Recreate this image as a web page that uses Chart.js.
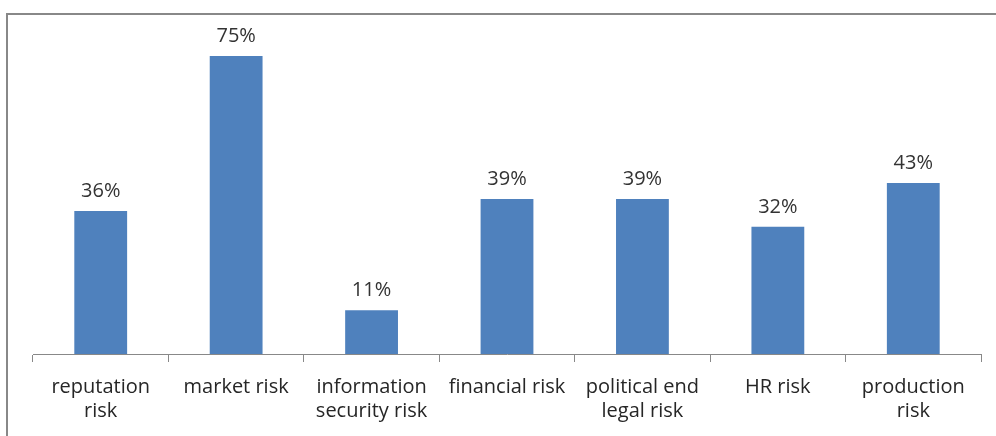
<!DOCTYPE html>
<html>
<head>
<meta charset="utf-8">
<script src="https://cdn.jsdelivr.net/npm/chart.js@4.4.0/dist/chart.umd.min.js"></script>
<style>
  body { margin: 0; background: #fff; }
  #frame { position: absolute; left: 6px; top: 13px; width: 990px; height: 423px;
           border-left: 2px solid #888; border-top: 2px solid #888; box-sizing: border-box; }
  #wrap { position: absolute; left: 0; top: 0; width: 996px; height: 436px; }
</style>
</head>
<body>
<div id="frame"></div>
<div id="wrap"><canvas id="riskChart" width="996" height="436"></canvas></div>
<script>
// categories and values
var categories = [
    ['reputation', 'risk'],
    'market risk',
    ['information', 'security risk'],
    'financial risk',
    ['political end', 'legal risk'],
    'HR risk',
    ['production', 'risk']
];
var riskValues = [36, 75, 11, 39, 39, 32, 43];

// draws the "NN%" text above every bar
var valueLabels = {
    id: 'valueLabels',
    afterDatasetsDraw: function(chart) {
        var ctx = chart.ctx;
        var meta = chart.getDatasetMeta(0);
        ctx.save();
        ctx.font = '20px "Open Sans"';
        ctx.fillStyle = '#333';
        ctx.textAlign = 'center';
        ctx.textBaseline = 'middle';
        meta.data.forEach(function(bar, i) {
            ctx.fillText(riskValues[i] + '%', bar.x, bar.y - 20);
        });
        ctx.restore();
    }
};

var ctx = document.getElementById('riskChart').getContext('2d');
var riskChart = new Chart(ctx, {
    type: 'bar',
    data: {
        labels: categories,
        datasets: [{
            data: riskValues,
            backgroundColor: '#4F81BD',
            borderWidth: 0,
            categoryPercentage: 1,
            barPercentage: 0.39
        }]
    },
    options: {
        responsive: false,
        animation: false,
        layout: { padding: { left: 33, right: 15, top: 36, bottom: 0 } },
        plugins: { legend: { display: false }, tooltip: { enabled: false } },
        scales: {
            x: {
                grid: { offset: true, drawOnChartArea: false, tickLength: 8, color: '#888' },
                border: { display: true, color: '#888' },
                ticks: {
                    color: '#262626',
                    padding: 13,
                    maxRotation: 0,
                    autoSkip: false,
                    font: { family: '"Open Sans"', size: 20, lineHeight: 1.2 }
                },
                afterFit: function(scale) { scale.height = 82; }
            },
            y: {
                display: false,
                min: 0,
                max: 80
            }
        }
    },
    plugins: [valueLabels]
});
</script>
</body>
</html>
